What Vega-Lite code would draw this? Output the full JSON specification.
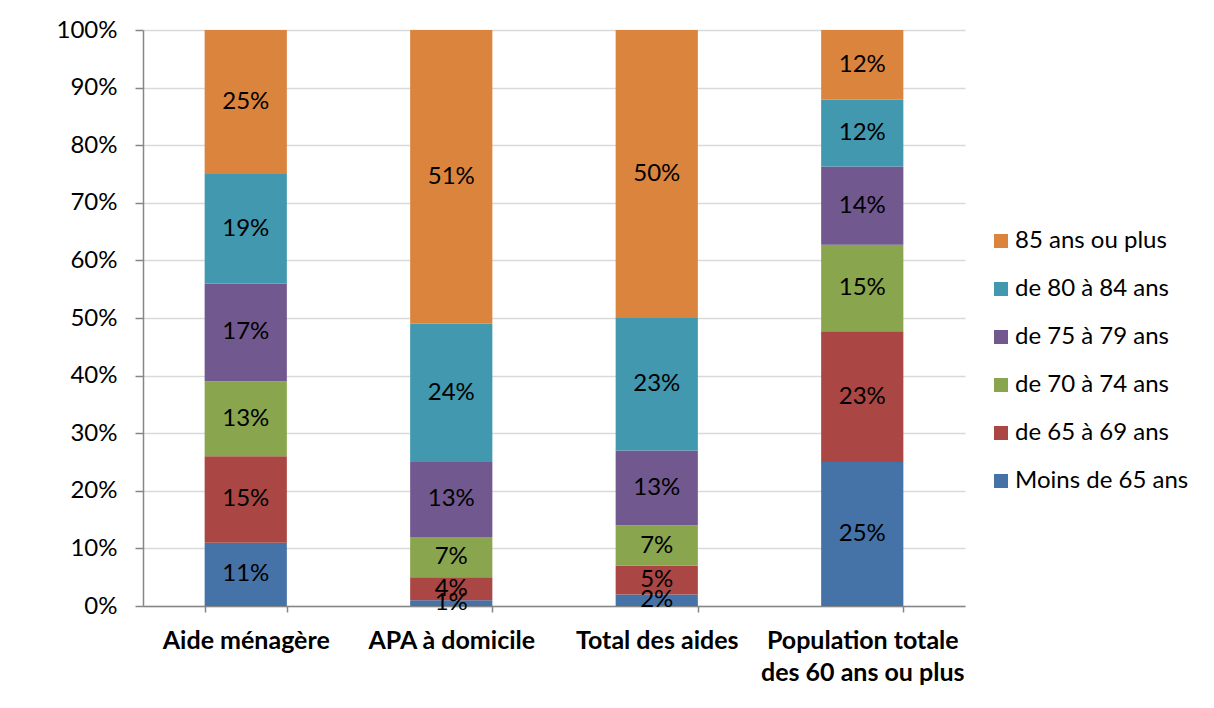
{
  "$schema": "https://vega.github.io/schema/vega-lite/v6.json",
  "width": 822,
  "height": 576,
  "autosize": {"type": "none"},
  "padding": {"left": 143, "top": 30, "right": 249, "bottom": 102},
  "background": "white",
  "config": {
    "view": {"stroke": null},
    "font": "Lato"
  },
  "data": {
    "values": [
      {"cat": "Aide ménagère", "age": "Moins de 65 ans", "k": 0, "v": 0.11},
      {"cat": "Aide ménagère", "age": "de 65 à 69 ans", "k": 1, "v": 0.15},
      {"cat": "Aide ménagère", "age": "de 70 à 74 ans", "k": 2, "v": 0.13},
      {"cat": "Aide ménagère", "age": "de 75 à 79 ans", "k": 3, "v": 0.17},
      {"cat": "Aide ménagère", "age": "de 80 à 84 ans", "k": 4, "v": 0.19},
      {"cat": "Aide ménagère", "age": "85 ans ou plus", "k": 5, "v": 0.25},
      {"cat": "APA à domicile", "age": "Moins de 65 ans", "k": 0, "v": 0.01},
      {"cat": "APA à domicile", "age": "de 65 à 69 ans", "k": 1, "v": 0.04},
      {"cat": "APA à domicile", "age": "de 70 à 74 ans", "k": 2, "v": 0.07},
      {"cat": "APA à domicile", "age": "de 75 à 79 ans", "k": 3, "v": 0.13},
      {"cat": "APA à domicile", "age": "de 80 à 84 ans", "k": 4, "v": 0.24},
      {"cat": "APA à domicile", "age": "85 ans ou plus", "k": 5, "v": 0.51},
      {"cat": "Total des aides", "age": "Moins de 65 ans", "k": 0, "v": 0.02},
      {"cat": "Total des aides", "age": "de 65 à 69 ans", "k": 1, "v": 0.05},
      {"cat": "Total des aides", "age": "de 70 à 74 ans", "k": 2, "v": 0.07},
      {"cat": "Total des aides", "age": "de 75 à 79 ans", "k": 3, "v": 0.13},
      {"cat": "Total des aides", "age": "de 80 à 84 ans", "k": 4, "v": 0.23},
      {"cat": "Total des aides", "age": "85 ans ou plus", "k": 5, "v": 0.50},
      {"cat": "Population totale|des 60 ans ou plus", "age": "Moins de 65 ans", "k": 0, "v": 0.250},
      {"cat": "Population totale|des 60 ans ou plus", "age": "de 65 à 69 ans", "k": 1, "v": 0.227},
      {"cat": "Population totale|des 60 ans ou plus", "age": "de 70 à 74 ans", "k": 2, "v": 0.150},
      {"cat": "Population totale|des 60 ans ou plus", "age": "de 75 à 79 ans", "k": 3, "v": 0.136},
      {"cat": "Population totale|des 60 ans ou plus", "age": "de 80 à 84 ans", "k": 4, "v": 0.116},
      {"cat": "Population totale|des 60 ans ou plus", "age": "85 ans ou plus", "k": 5, "v": 0.121}
    ]
  },
  "transform": [
    {"stack": "v", "groupby": ["cat"], "sort": [{"field": "k", "order": "ascending"}], "as": ["y0", "y1"]},
    {"calculate": "(datum.y0 + datum.y1) / 2", "as": "ymid"}
  ],
  "encoding": {
    "x": {
      "field": "cat",
      "type": "nominal",
      "sort": null,
      "scale": {"paddingInner": 0.6, "paddingOuter": 0.3},
      "axis": {
        "title": null,
        "labelAngle": 0,
        "labelExpr": "split(datum.label, '|')",
        "labelFont": "Lato",
        "labelFontSize": 25,
        "labelFontWeight": "bold",
        "labelColor": "black",
        "labelLineHeight": 32,
        "labelPadding": 16,
        "labelLimit": 300,
        "domainColor": "#868686",
        "domainWidth": 1.5,
        "tickColor": "#868686",
        "tickWidth": 1.5,
        "tickSize": 6,
        "tickBand": "extent",
        "grid": false
      }
    }
  },
  "layer": [
    {
      "mark": {"type": "bar"},
      "encoding": {
        "y": {
          "field": "y0",
          "type": "quantitative",
          "scale": {"domain": [0, 1], "nice": false},
          "axis": {
            "title": null,
            "values": [0, 0.1, 0.2, 0.3, 0.4, 0.5, 0.6, 0.7, 0.8, 0.9, 1],
            "format": ".0%",
            "labelFont": "Lato",
            "labelFontSize": 24,
            "labelColor": "black",
            "labelPadding": 18,
            "grid": true,
            "gridColor": "#D9D9D9",
            "gridWidth": 1.5,
            "domainColor": "#868686",
            "domainWidth": 1.5,
            "tickColor": "#868686",
            "tickWidth": 1.5,
            "tickSize": 8
          }
        },
        "y2": {"field": "y1"},
        "color": {
          "field": "age",
          "type": "nominal",
          "scale": {
            "domain": ["85 ans ou plus", "de 80 à 84 ans", "de 75 à 79 ans", "de 70 à 74 ans", "de 65 à 69 ans", "Moins de 65 ans"],
            "range": ["#DB843D", "#4198AF", "#71588F", "#89A54E", "#AA4643", "#4572A7"]
          },
          "legend": {
            "title": null,
            "orient": "none",
            "legendX": 846,
            "legendY": 199,
            "symbolType": "square",
            "symbolSize": 196,
            "symbolStrokeWidth": 0,
            "labelFont": "Lato",
            "labelFontSize": 24,
            "labelColor": "black",
            "labelOffset": 2,
            "rowPadding": 24,
            "labelLimit": 300
          }
        }
      }
    },
    {
      "mark": {"type": "text", "font": "Lato", "fontSize": 24, "color": "black", "baseline": "middle", "align": "center"},
      "encoding": {
        "y": {"field": "ymid", "type": "quantitative"},
        "text": {"field": "v", "type": "quantitative", "format": ".0%"}
      }
    }
  ]
}
